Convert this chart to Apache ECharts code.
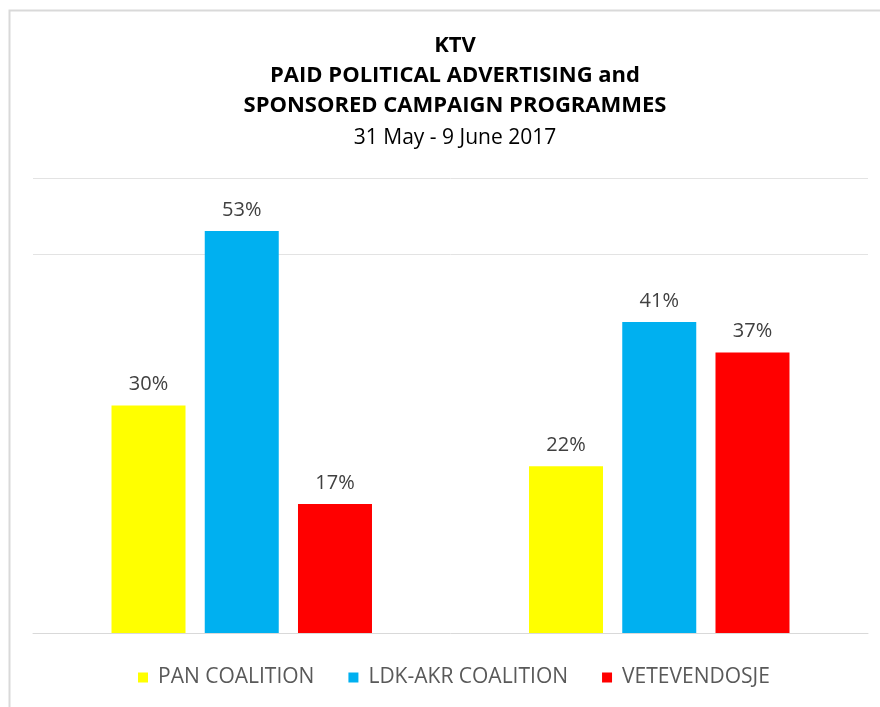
<!DOCTYPE html>
<html>
<head>
<meta charset="utf-8">
<script src="https://cdn.jsdelivr.net/npm/echarts@6/dist/echarts.min.js"></script>
<style>
    html, body { margin: 0; padding: 0; background: #fff; }
    #chart { width: 880px; height: 707px; }
</style>
</head>
<body>
<div id="chart"></div>
<script>
// Chart data
const categories = ['Paid political advertising', 'Sponsored campaign programmes'];
const panCoalition = [30, 22];
const ldkAkrCoalition = [53, 41];
const vetevendosje = [17, 37];
const seriesNames = ['PAN COALITION', 'LDK-AKR COALITION', 'VETEVENDOSJE'];

const fontFamily = '"Open Sans", Lato, sans-serif';

let chartElem = document.getElementById('chart');
if (chartElem) {
    let chart = echarts.init(chartElem);

    let barSeries = function(name, data, color) {
        return {
            name: name,
            type: 'bar',
            data: data,
            barWidth: 74,
            barGap: '26%',
            color: color,
            label: {
                show: true,
                position: 'top',
                distance: 11,
                formatter: '{c}%',
                color: '#404040',
                fontSize: 20,
                fontFamily: fontFamily
            }
        };
    };

    chart.setOption({
        animation: false,
        graphic: [{
            type: 'rect',
            left: 7,
            top: 8,
            shape: { width: 900, height: 720 },
            style: { fill: 'none', stroke: '#d9d9d9', lineWidth: 2 },
            silent: true
        }],
        title: {
            text: 'KTV\nPAID POLITICAL ADVERTISING and\nSPONSORED CAMPAIGN PROGRAMMES',
            subtext: '31 May - 9 June 2017',
            left: 450,
            top: 26,
            textAlign: 'center',
            itemGap: 7,
            textStyle: {
                fontFamily: fontFamily,
                fontWeight: 'bold',
                fontSize: 22,
                lineHeight: 30,
                color: '#000'
            },
            subtextStyle: {
                fontFamily: fontFamily,
                fontSize: 21,
                color: '#000'
            }
        },
        legend: {
            top: 662,
            left: 133,
            itemWidth: 10,
            itemHeight: 10,
            itemGap: 34,
            icon: 'rect',
            data: seriesNames,
            textStyle: {
                fontFamily: fontFamily,
                fontSize: 21,
                color: '#595959',
                padding: [0, 0, 0, 5]
            }
        },
        grid: {
            left: 33,
            right: 12,
            top: 178,
            bottom: 74
        },
        xAxis: [{
            type: 'category',
            data: categories,
            axisTick: { show: false },
            axisLabel: { show: false },
            axisLine: {
                show: true,
                lineStyle: { color: '#d9d9d9', width: 1 }
            }
        }],
        yAxis: [{
            type: 'value',
            min: 0,
            max: 60,
            interval: 10,
            axisLabel: { show: false },
            axisLine: { show: false },
            axisTick: { show: false },
            splitLine: {
                show: true,
                lineStyle: {
                    color: ['rgba(0,0,0,0)', 'rgba(0,0,0,0)', 'rgba(0,0,0,0)',
                            'rgba(0,0,0,0)', 'rgba(0,0,0,0)', '#e3e3e3', '#e3e3e3']
                }
            }
        }],
        series: [
            barSeries(seriesNames[0], panCoalition, '#ffff00'),
            barSeries(seriesNames[1], ldkAkrCoalition, '#00b0f0'),
            barSeries(seriesNames[2], vetevendosje, '#ff0000')
        ]
    });
}
</script>
</body>
</html>
